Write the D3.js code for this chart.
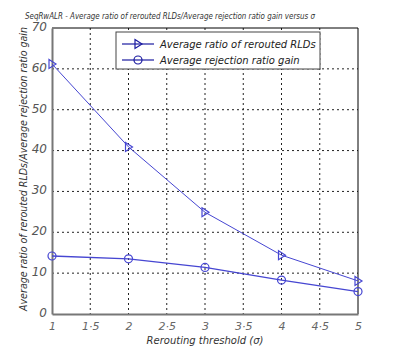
<!DOCTYPE html>
<html>
<head>
<meta charset="utf-8">
<script src="https://cdn.jsdelivr.net/npm/d3@7"></script>
<style>
  body { margin: 0; background: #fff; }
  text { font-family: "DejaVu Sans", sans-serif; font-style: italic; }
  .narrow { font-family: "Liberation Sans Narrow", "DejaVu Sans Condensed", "Liberation Sans", sans-serif; }
</style>
</head>
<body>
<div id="chart"></div>
<script>
// data
const thresholds = [1, 2, 3, 4, 5];
const reroutedRatio = [61.2, 40.9, 24.9, 14.4, 8.1];
const rejectionGain = [14.2, 13.5, 11.4, 8.3, 5.5];
const xTicks = [1, 1.5, 2, 2.5, 3, 3.5, 4, 4.5, 5];
const yTicks = [0, 10, 20, 30, 40, 50, 60, 70];
const seriesNames = ["Average ratio of rerouted RLDs", "Average rejection ratio gain"];

const W = 395, H = 352;
const margin = { top: 28, right: 37, bottom: 38, left: 52 };
const width = W - margin.left - margin.right;
const height = H - margin.top - margin.bottom;

const svg = d3.select("#chart").append("svg")
    .attr("width", W)
    .attr("height", H);

const g = svg.append("g")
    .attr("transform", `translate(${margin.left}, ${margin.top})`);

const xScale = d3.scaleLinear().domain([1, 5]).range([0, width]);
const yScale = d3.scaleLinear().domain([0, 70]).range([height, 0]);

// grid
g.selectAll(".vgrid")
    .data(xTicks.filter(d => d > 1 && d < 5))
    .enter().append("line")
    .attr("x1", d => xScale(d)).attr("x2", d => xScale(d))
    .attr("y1", 0).attr("y2", height)
    .attr("stroke", "#222").attr("stroke-width", 1)
    .attr("stroke-dasharray", "2,3");

g.selectAll(".hgrid")
    .data(yTicks.filter(d => d > 0 && d < 70))
    .enter().append("line")
    .attr("x1", 0).attr("x2", width)
    .attr("y1", d => yScale(d)).attr("y2", d => yScale(d))
    .attr("stroke", "#222").attr("stroke-width", 1)
    .attr("stroke-dasharray", "2,3");

// frame: top and right black, left and bottom grey
g.append("line").attr("x1", 0).attr("x2", width).attr("y1", 0).attr("y2", 0)
    .attr("stroke", "#000").attr("stroke-width", 1);
g.append("line").attr("x1", width).attr("x2", width).attr("y1", 0).attr("y2", height)
    .attr("stroke", "#000").attr("stroke-width", 1);

const xAxis = d3.axisBottom(xScale).tickValues(xTicks).tickSize(0).tickPadding(8)
    .tickFormat(d => String(d).replace(".", "·"));
g.append("g")
    .attr("transform", `translate(0, ${height})`)
    .call(xAxis)
    .call(a => a.select(".domain").attr("stroke", "#777").attr("stroke-width", 2))
    .call(a => a.selectAll("text").attr("fill", "#666").attr("font-size", 11));

const yAxis = d3.axisLeft(yScale).tickValues(yTicks).tickSize(0).tickPadding(5);
g.append("g")
    .call(yAxis)
    .call(a => a.select(".domain").attr("stroke", "#777").attr("stroke-width", 2))
    .call(a => a.selectAll("text").attr("fill", "#555").attr("font-size", 12).attr("dy", "0.2em"));

// lines
const lineColor = "#4646d2";
const line = d3.line().x(d => xScale(d[0])).y(d => yScale(d[1]));

const s1 = thresholds.map((t, i) => [t, reroutedRatio[i]]);
const s2 = thresholds.map((t, i) => [t, rejectionGain[i]]);

g.append("path").datum(s1).attr("d", line)
    .attr("fill", "none").attr("stroke", lineColor).attr("stroke-width", 1);
g.append("path").datum(s2).attr("d", line)
    .attr("fill", "none").attr("stroke", lineColor).attr("stroke-width", 1.3);

const tri = "M-3,-4.5 L4,0 L-3,4.5 Z";
g.selectAll(".tri").data(s1).enter().append("path")
    .attr("d", tri)
    .attr("transform", d => `translate(${xScale(d[0])}, ${yScale(d[1])})`)
    .attr("fill", "none").attr("stroke", lineColor).attr("stroke-width", 1.2);

g.selectAll(".circ").data(s2).enter().append("circle")
    .attr("cx", d => xScale(d[0])).attr("cy", d => yScale(d[1]))
    .attr("r", 4)
    .attr("fill", "none").attr("stroke", lineColor).attr("stroke-width", 1.2);

// legend
const legend = svg.append("g").attr("transform", "translate(116, 32)");
legend.append("rect")
    .attr("width", 204).attr("height", 37)
    .attr("fill", "#fff").attr("stroke", "#444").attr("stroke-width", 1);
const legColor = "#1a1aa0";
seriesNames.forEach((name, i) => {
    const y = 12 + i * 16;
    legend.append("line").attr("x1", 6).attr("x2", 38).attr("y1", y).attr("y2", y)
        .attr("stroke", legColor).attr("stroke-width", 1.2);
    if (i === 0) {
        legend.append("path").attr("d", tri)
            .attr("transform", `translate(22, ${y})`)
            .attr("fill", "none").attr("stroke", legColor).attr("stroke-width", 1.2);
    } else {
        legend.append("circle").attr("cx", 22).attr("cy", y).attr("r", 4)
            .attr("fill", "none").attr("stroke", legColor).attr("stroke-width", 1.2);
    }
    legend.append("text").attr("x", 44).attr("y", y + 4)
        .attr("font-size", 10).attr("fill", "#222").text(name);
});

// title and labels
svg.append("text")
    .attr("class", "narrow")
    .attr("x", 170).attr("y", 19)
    .attr("text-anchor", "middle")
    .attr("font-size", 9.5).attr("fill", "#333")
    .attr("textLength", 290).attr("lengthAdjust", "spacingAndGlyphs")
    .text("SeqRwALR - Average ratio of rerouted RLDs/Average rejection ratio gain versus σ");

svg.append("text")
    .attr("x", 205).attr("y", 344)
    .attr("text-anchor", "middle")
    .attr("font-size", 10).attr("fill", "#333")
    .text("Rerouting threshold (σ)");

svg.append("text")
    .attr("class", "narrow")
    .attr("transform", `translate(27, ${margin.top + height / 2 - 2}) rotate(-90)`)
    .attr("text-anchor", "middle")
    .attr("font-size", 10).attr("fill", "#333")
    .attr("textLength", 284).attr("lengthAdjust", "spacingAndGlyphs")
    .text("Average ratio of rerouted RLDs/Average rejection ratio gain");
</script>
</body>
</html>
